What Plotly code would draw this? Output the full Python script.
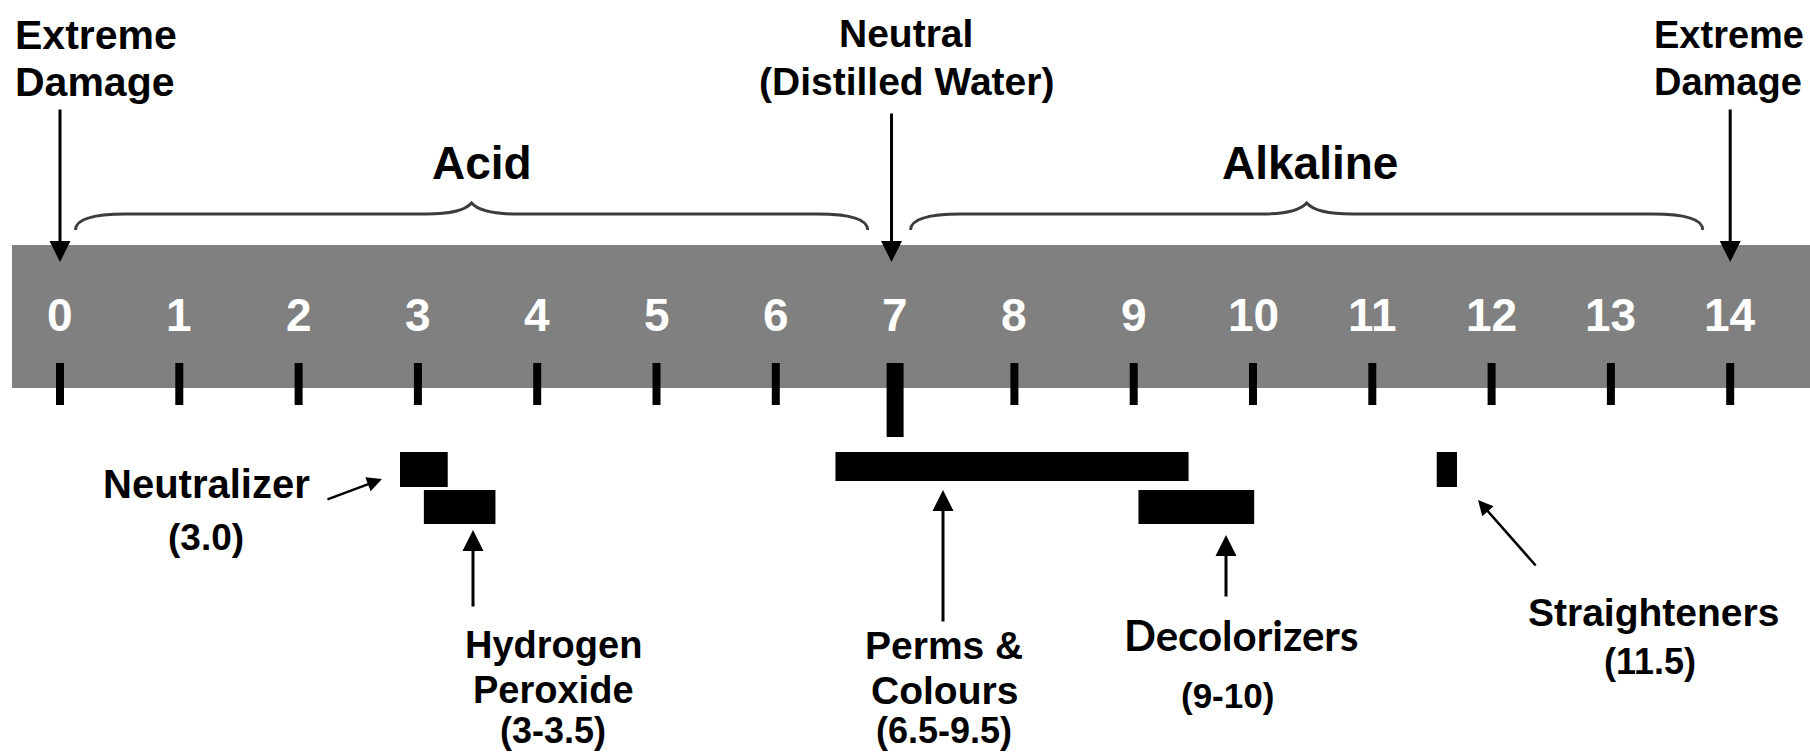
import plotly.graph_objects as go

# ---------------- data ----------------
ph_values = list(range(15))
ph_labels = [str(v) for v in ph_values]
neutral_ph = 7
extreme_ph = [0, 14]

region_names = ["Acid", "Alkaline"]
region_start = [0, 7]
region_end = [7, 14]

product_names = ["Neutralizer", "Hydrogen<br>Peroxide", "Perms &amp;<br>Colours", "Decolorizers", "Straighteners"]
product_range_text = ["(3.0)", "(3-3.5)", "(6.5-9.5)", "(9-10)", "(11.5)"]
product_start = [2.85, 3.05, 6.50, 9.04, 11.54]
product_end = [3.25, 3.65, 9.46, 10.01, 11.71]

# ---------------- layout helpers (pixel mapping) ----------------
W, H = 1810, 753
PX0, PX_PER = 60.0, 119.3          # pixel of pH 0, pixels per pH unit


def ph(px):
    return (px - PX0) / PX_PER


BODY = "Liberation Sans, Arial, Helvetica, sans-serif"
CAL = "Lato, Carlito, Liberation Sans, sans-serif"

fig = go.Figure()

# gray scale band
fig.add_shape(type="rect", xref="x", yref="y", x0=ph(12), x1=ph(W + 10), y0=245, y1=388,
              fillcolor="#808080", line_width=0, layer="below")

# scale ticks
fig.add_trace(go.Bar(x=ph_values, y=[42] * len(ph_values), base=[363] * len(ph_values),
                     width=8 / PX_PER, marker=dict(color="black", line_width=0),
                     orientation="v", hoverinfo="skip", showlegend=False))
fig.add_trace(go.Bar(x=[neutral_ph], y=[74], base=[363], width=17 / PX_PER,
                     marker=dict(color="black", line_width=0),
                     orientation="v", hoverinfo="skip", showlegend=False))

# product bars
row_y = [469.5, 507, 466.5, 507, 469.5]
row_h = [35, 34, 29, 34, 35]
fig.add_trace(go.Bar(orientation="h", y=row_y,
                     x=[e - s for s, e in zip(product_start, product_end)],
                     base=product_start, width=row_h,
                     marker=dict(color="black", line_width=0),
                     hoverinfo="skip", showlegend=False))

# scale numbers
for v, t in zip(ph_values, ph_labels):
    fig.add_annotation(x=v, y=314.5, xref="x", yref="y", text=t, showarrow=False,
                       xanchor="center", yanchor="middle",
                       font=dict(family=BODY, size=46, color="white", weight="bold"))

# braces over regions
for name, s, e in zip(region_names, region_start, region_end):
    L = s + 0.13
    R = e - 0.23
    P = (L + R) / 2
    yb, yl, yp = 230, 214, 203
    path = (f"M {L},{yb} Q {L},{yl} {L + 0.42},{yl} L {P - 0.38},{yl} "
            f"Q {P - 0.08},{yl} {P},{yp} Q {P + 0.08},{yl} {P + 0.38},{yl} "
            f"L {R - 0.42},{yl} Q {R},{yl} {R},{yb}")
    fig.add_shape(type="path", path=path, xref="x", yref="y",
                  line=dict(color="#3c3c3c", width=3))

region_label_px = [482, 1310]
for name, xp in zip(region_names, region_label_px):
    fig.add_annotation(x=ph(xp), y=162.5, xref="x", yref="y", text=name, showarrow=False,
                       xanchor="center", yanchor="middle",
                       font=dict(family=BODY, size=46, color="black", weight="bold"))


def arrow(x_tip, y_tip, x_tail, y_tail, size=1.4, width=3):
    fig.add_annotation(x=x_tip, y=y_tip, ax=x_tail, ay=y_tail, xref="x", yref="y",
                       axref="x", ayref="y", text="", showarrow=True, arrowhead=2,
                       arrowsize=size, arrowwidth=width, arrowcolor="black", standoff=0)


def label(lines, x_px, ys, size=38, family=BODY, xanchor="center"):
    for t, y in zip(lines, ys):
        fig.add_annotation(x=ph(x_px), y=y, xref="x", yref="y", text=t, showarrow=False,
                           xanchor=xanchor, yanchor="middle",
                           font=dict(family=family, size=size, color="black", weight="bold"))


# top markers
for v in extreme_ph:
    arrow(v, 262, v, 108)
arrow(neutral_ph - 0.03, 262, neutral_ph - 0.03, 112)
label(["Extreme", "Damage"], 13, [34.5, 82], size=41, xanchor="left")
label(["Extreme", "Damage"], 1652, [34.5, 82], size=38, xanchor="left")
label(["Neutral", "(Distilled Water)"], 906, [33.5, 81.5], size=39)

# product labels
# Neutralizer
label([product_names[0]], 206, [484], size=40)
label([product_range_text[0]], 206, [537], size=37)
arrow(ph(382), 479, ph(326), 500, size=1.2, width=2.5)
# Hydrogen peroxide
label(product_names[1].split("<br>"), 553, [645, 690])
label([product_range_text[1]], 553, [730], size=36)
arrow(ph(473), 530, ph(473), 608)
# Perms & colours
label(product_names[2].split("<br>"), 944, [645, 690], size=39)
label([product_range_text[2]], 944, [730], size=36)
arrow(ph(943), 490, ph(943), 623)
# Decolorizers
label([product_names[3]], 1241, [635], size=42, family=CAL)
label([product_range_text[3]], 1227, [695], size=35)
arrow(ph(1226), 535, ph(1226), 598)
# Straighteners
label([product_names[4]], 1653, [612], size=39)
label([product_range_text[4]], 1650, [661], size=36)
arrow(ph(1478), 500, ph(1537), 567, size=1.2, width=2.5)

fig.update_layout(
    width=W, height=H,
    margin=dict(l=0, r=0, t=0, b=0),
    paper_bgcolor="white", plot_bgcolor="white",
    barmode="overlay", showlegend=False,
    xaxis=dict(range=[ph(0), ph(W)], visible=False, fixedrange=True),
    yaxis=dict(range=[H, 0], visible=False, fixedrange=True),
)

fig.write_html(
    "out.html",
    config={"displayModeBar": False},
    post_script="document.body.style.margin='0px';document.body.style.padding='0px';"
                "document.documentElement.style.overflow='hidden';document.body.style.overflow='hidden';",
)
